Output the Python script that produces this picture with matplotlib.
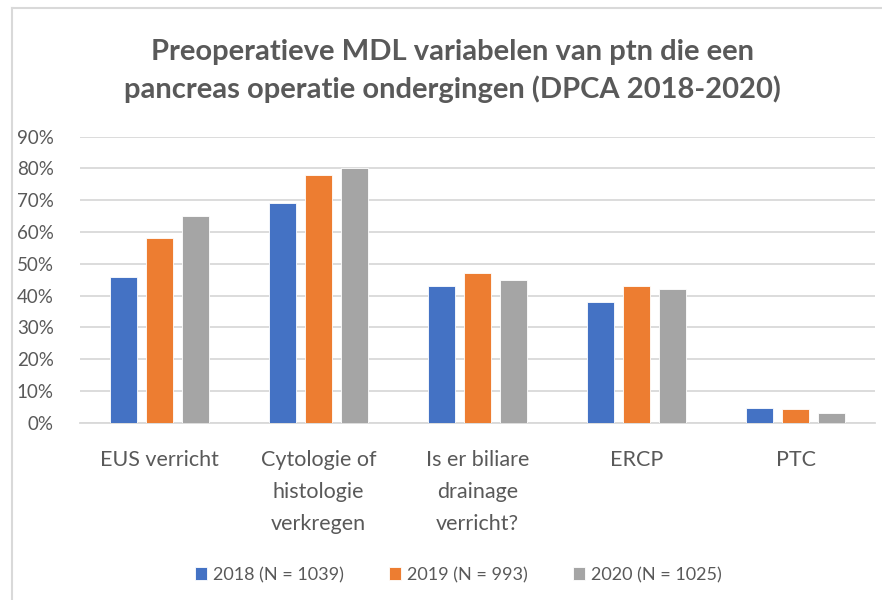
import matplotlib
matplotlib.use("Agg")
import matplotlib.pyplot as plt
import numpy as np
from matplotlib.lines import Line2D
from matplotlib.ticker import PercentFormatter

categories = ["EUS verricht", "Cytologie of\nhistologie\nverkregen",
              "Is er biliare\ndrainage\nverricht?", "ERCP", "PTC"]
series_names = ["2018 (N = 1039)", "2019 (N = 993)", "2020 (N = 1025)"]
v2018 = [46, 69, 43, 38, 4.5]
v2019 = [58, 78, 47, 43, 4.2]
v2020 = [65, 80, 45, 42, 3.0]
colors = ["#4472C4", "#ED7D31", "#A5A5A5"]
yticks = [0, 10, 20, 30, 40, 50, 60, 70, 80, 90]
title = "Preoperatieve MDL variabelen van ptn die een\npancreas operatie ondergingen (DPCA 2018-2020)"

plt.rcParams['font.family'] = ['Lato', 'DejaVu Sans']
txt = "#595959"

W, H = 882, 600
fig = plt.figure(figsize=(W / 100, H / 100), dpi=100)

# outer chart frame
fig.add_artist(Line2D([12 / W, 12 / W], [0, 1 - 8 / H], transform=fig.transFigure,
                      color="#d9d9d9", lw=1.5))
fig.add_artist(Line2D([12 / W, 1], [1 - 8 / H, 1 - 8 / H], transform=fig.transFigure,
                      color="#d9d9d9", lw=1.5))

left, right = 80 / W, 875 / W
bottom = 1 - 422.7 / H
top = 1 - 136.7 / H
ax = fig.add_axes([left, bottom, right - left, top - bottom])

x = np.arange(len(categories))
step = 0.225
width = 0.173
for i, (vals, c, name) in enumerate(zip([v2018, v2019, v2020], colors, series_names)):
    ax.bar(x + (i - 1) * step, vals, width=width, color=c, label=name, zorder=3,
           edgecolor="white", linewidth=0.6)

ax.set_xlim(-0.5, len(categories) - 0.5)
ax.set_ylim(0, 90)
ax.set_yticks(yticks)
ax.yaxis.set_major_formatter(PercentFormatter(decimals=0))
ax.grid(axis="y", color="#d9d9d9", lw=1.3, zorder=0)
ax.set_axisbelow(True)
for s in ["top", "right", "left"]:
    ax.spines[s].set_visible(False)
ax.spines["bottom"].set_color("#d9d9d9")
ax.spines["bottom"].set_linewidth(1.3)
ax.tick_params(axis="both", length=0, colors=txt)
ax.tick_params(axis="y", pad=19, labelsize=13.5)
ax.set_xticks(x)
ax.set_xticklabels(categories, linespacing=1.75, va="top", fontsize=15.5)
ax.tick_params(axis="x", pad=20)

fig.text(452 / W, 1 - 71 / H, title, ha="center", va="center", fontsize=21,
         fontweight="bold", color=txt, linespacing=1.45)

leg = fig.legend(loc="center", bbox_to_anchor=(458 / W, 1 - 575 / H), ncol=3,
                 frameon=False, fontsize=13, handlelength=0.7, handleheight=0.7,
                 handletextpad=0.3, columnspacing=2.5)
for t in leg.get_texts():
    t.set_color(txt)

fig.savefig("out.png", dpi=100, facecolor="white")
